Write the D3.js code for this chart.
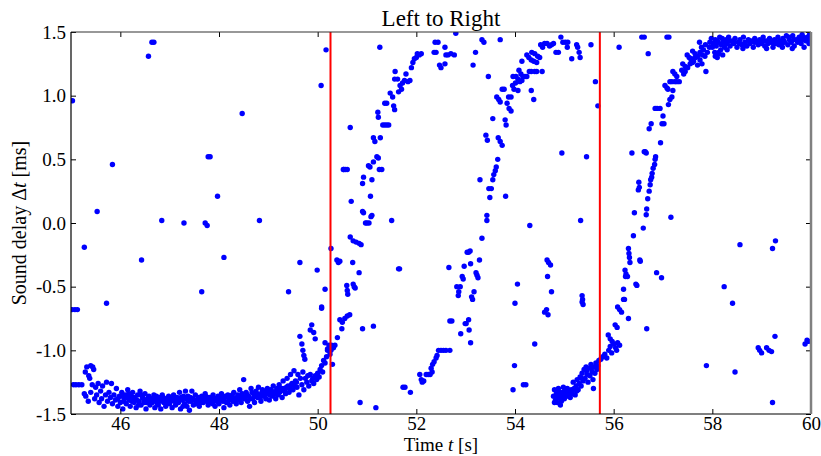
<!DOCTYPE html>
<html>
<head>
<meta charset="utf-8">
<script src="https://cdn.jsdelivr.net/npm/d3@7"></script>
<style>
body { margin: 0; background: #fff; }
svg { display: block; font-family: "Liberation Serif", "DejaVu Serif", serif; }
</style>
</head>
<body>
<svg id="svg0" width="821" height="456"></svg>
<script>

// tick values
var xTicks = [46, 48, 50, 52, 54, 56, 58, 60];
var yTicks = [-1.5, -1.0, -0.5, 0.0, 0.5, 1.0, 1.5];

// red marker lines (time in s)
var markers = [50.26, 55.72];

// [time s, delay ms]
var baseline = [
    [45.05,-1.27],[45.1,-1.27],[45.16,-1.27],[45.22,-1.27],[45.27,-1.34],[45.3,-1.36],[45.29,-1.17],[45.32,-1.13],[45.36,-1.2],[45.4,-1.12],
    [45.44,-1.13],[45.46,-1.15],[45.38,-1.22],[45.35,-1.4],[45.4,-1.33],[45.43,-1.27],[45.48,-1.38],[45.5,-1.29],[45.52,-1.35],[45.55,-1.26],
    [45.57,-1.41],[45.6,-1.32],[45.62,-1.38],[45.64,-1.28],[45.67,-1.44],[45.7,-1.35],[45.72,-1.25],[45.74,-1.4],[45.77,-1.33],[45.8,-1.37],
    [45.82,-1.26],[45.84,-1.42],[45.87,-1.35],[45.9,-1.39],[45.92,-1.3],[45.95,-1.44],[45.98,-1.36],
    [46.0,-1.41],[46.03,-1.33],[46.05,-1.46],[46.08,-1.38],[46.1,-1.35],[46.12,-1.42],[46.15,-1.31],[46.18,-1.39],[46.2,-1.44],[46.22,-1.36],
    [46.25,-1.33],[46.28,-1.41],[46.3,-1.38],[46.32,-1.45],[46.35,-1.35],[46.38,-1.4],[46.4,-1.32],[46.42,-1.43],[46.45,-1.37],[46.48,-1.41],
    [46.5,-1.34],[46.52,-1.46],[46.55,-1.39],[46.58,-1.36],[46.6,-1.43],[46.62,-1.38],[46.65,-1.41],[46.68,-1.35],[46.7,-1.45],[46.72,-1.39],
    [46.75,-1.42],[46.78,-1.37],[46.8,-1.4],[46.82,-1.46],[46.85,-1.35],[46.88,-1.41],[46.9,-1.38],[46.92,-1.44],[46.95,-1.4],[46.98,-1.36],
    [47.0,-1.42],[47.03,-1.38],[47.05,-1.45],[47.08,-1.35],[47.1,-1.4],[47.12,-1.43],[47.15,-1.37],[47.18,-1.41],[47.2,-1.33],[47.22,-1.46],
    [47.25,-1.39],[47.28,-1.36],[47.3,-1.42],[47.32,-1.32],[47.35,-1.44],[47.38,-1.4],[47.4,-1.47],[47.42,-1.37],[47.45,-1.32],[47.48,-1.43],
    [47.5,-1.39],[47.52,-1.35],[47.55,-1.41],[47.58,-1.37],[47.6,-1.44],[47.62,-1.39],[47.65,-1.36],[47.68,-1.41],[47.7,-1.38],[47.72,-1.34],
    [47.75,-1.4],[47.78,-1.43],[47.8,-1.37],[47.82,-1.39],[47.85,-1.41],[47.88,-1.35],[47.9,-1.38],[47.92,-1.44],[47.95,-1.4],[47.98,-1.36],
    [48.0,-1.42],[48.02,-1.38],[48.05,-1.34],[48.08,-1.4],[48.1,-1.45],[48.12,-1.37],[48.15,-1.41],[48.18,-1.35],[48.2,-1.39],[48.22,-1.43],
    [48.25,-1.36],[48.28,-1.4],[48.3,-1.33],[48.32,-1.38],[48.35,-1.42],[48.38,-1.35],[48.4,-1.39],[48.42,-1.31],[48.45,-1.41],[48.48,-1.36],
    [48.5,-1.23],[48.52,-1.38],[48.55,-1.33],[48.58,-1.4],[48.6,-1.36],[48.62,-1.44],[48.65,-1.3],[48.68,-1.38],[48.7,-1.34],[48.72,-1.41],
    [48.75,-1.32],[48.78,-1.37],[48.8,-1.29],[48.82,-1.35],[48.85,-1.4],[48.88,-1.31],[48.9,-1.36],[48.92,-1.33],[48.95,-1.38],[48.98,-1.3],
    [49.0,-1.34],[49.02,-1.39],[49.05,-1.31],[49.08,-1.36],[49.1,-1.28],[49.12,-1.33],[49.15,-1.38],[49.18,-1.3],[49.2,-1.35],[49.22,-1.27],
    [49.25,-1.32],[49.28,-1.37],[49.3,-1.24],[49.32,-1.3],[49.35,-1.34],[49.38,-1.22],[49.4,-1.28],[49.42,-1.33],[49.45,-1.19],[49.48,-1.26],
    [49.5,-1.31],[49.52,-1.16],[49.55,-1.24],[49.58,-1.29],[49.6,-1.19],[49.62,-1.35],[49.65,-1.22],[49.68,-1.27],[49.7,-1.17],[49.72,-1.31],
    [49.75,-1.22],[49.78,-1.25],[49.8,-1.2],[49.82,-1.28],[49.85,-1.19],[49.88,-1.24],[49.9,-1.22],[49.92,-1.26],[49.95,-1.2],[49.98,-1.23],
    [50.0,-1.18],[50.03,-1.21],[50.05,-1.15],[50.08,-1.12],[50.1,-1.17],[50.12,-1.08],[50.15,-1.1],[50.18,-1.05],[50.2,-1.0],[50.23,-0.96],
    [50.25,-1.03],[50.28,-0.96],[50.3,-1.11],[50.32,-0.98],[50.35,-0.96],
    [45.95,-1.38],[46.02,-1.36],[46.07,-1.4],[46.13,-1.37],[46.17,-1.34],[46.23,-1.4],[46.27,-1.37],[46.33,-1.39],[46.37,-1.43],[46.43,-1.35],
    [46.47,-1.38],[46.53,-1.41],[46.57,-1.37],[46.63,-1.4],[46.67,-1.38],[46.73,-1.36],[46.77,-1.43],[46.83,-1.39],[46.87,-1.37],[46.93,-1.41],
    [46.97,-1.39],[47.02,-1.4],[47.07,-1.38],[47.13,-1.41],[47.17,-1.39],[47.23,-1.37],[47.27,-1.44],[47.33,-1.38],[47.37,-1.36],[47.43,-1.4],
    [47.47,-1.38],[47.53,-1.42],[47.57,-1.39],[47.63,-1.41],[47.67,-1.38],[47.73,-1.36],[47.77,-1.39],[47.83,-1.37],[47.87,-1.42],[47.93,-1.38],
    [47.97,-1.4],[48.03,-1.37],[48.07,-1.39],[48.13,-1.36],[48.17,-1.41],[48.23,-1.38],[48.27,-1.35],[48.33,-1.4],[48.37,-1.37],[48.43,-1.38],
    [48.47,-1.34],[48.53,-1.37],[48.57,-1.35],[48.63,-1.38],[48.67,-1.33],[48.73,-1.36],[48.77,-1.34],[48.83,-1.37],[48.87,-1.33],[48.93,-1.35],
    [48.97,-1.33],[49.03,-1.35],[49.07,-1.32],[49.13,-1.34],[49.17,-1.31],[49.23,-1.33],[49.27,-1.3],[49.33,-1.32],[49.37,-1.29],[49.43,-1.3],
    [49.47,-1.27],[49.53,-1.28],[49.57,-1.25],
    [49.64,-0.89],[49.68,-0.95],[49.7,-1.0],[49.72,-1.04],[49.74,-1.07],[49.85,-0.84],[49.88,-0.8],[49.92,-0.86],[49.95,-0.91],[50.08,-0.66],
    [50.15,-0.94],[50.2,-0.99],[50.27,-1.0],[50.4,-0.9],[50.45,-0.76],[50.5,-0.78],[50.55,-0.75],[50.6,-0.73],[50.65,-0.72],[50.49,-0.83]
];

var riseA = [
    [50.27,-0.2],[50.39,-0.29],[50.42,-0.31],[50.45,-0.3],[50.52,0.42],[50.56,0.42],[50.6,0.42],[50.53,0.42],[50.59,-0.49],[50.6,-0.53],
    [50.61,-0.56],[50.66,-0.11],[50.68,0.17],[50.66,0.75],[50.71,-0.31],[50.72,-0.48],[50.74,-0.5],[50.76,-0.51],[50.72,-0.14],[50.78,-0.15],
    [50.84,-0.16],[50.88,-0.17],[50.84,-0.39],[50.91,0.09],[50.91,0.31],[50.93,0.36],[50.93,0.08],[50.97,0.0],[51.0,0.0],[51.04,0.0],
    [51.07,0.21],[51.08,0.05],[51.1,0.06],[51.03,0.45],[51.06,0.44],[51.1,0.34],[51.13,0.48],[51.2,0.52],[51.23,0.51],[51.25,0.42],
    [51.3,0.42],[51.13,0.67],[51.16,0.64],[51.27,0.67],[51.22,0.87],[51.23,0.83],[51.32,0.77],[51.36,0.77],[51.4,0.77],[51.44,0.77],
    [51.36,0.94],[51.4,0.94],[51.47,1.02],[51.52,0.99],[51.54,0.92],[51.56,0.89],[51.57,1.19],[51.56,1.13],[51.62,1.13],[51.64,1.03],
    [51.67,1.08],[51.7,1.05],[51.72,1.1],[51.76,1.12],[51.79,1.17],[51.83,1.11],[51.87,1.12],[51.9,1.22],[51.93,1.26],[51.96,1.29],
    [52.0,1.3],[52.02,1.33],[52.06,1.32],[52.1,1.33],[52.36,1.34],[52.4,1.34],[52.44,1.42],[52.47,1.24],[52.5,1.22],[52.58,1.38],
    [52.6,1.32],[52.64,1.32],[52.7,1.33],[52.77,1.32],[52.8,1.49],[51.26,1.38],[51.5,0.02],[51.64,-0.36],[51.66,-0.36],[51.13,-0.81],
    [50.91,-0.83],[52.38,1.42],[52.58,1.25]
];

var riseB = [
    [51.73,-1.29],[51.77,-1.29],[51.88,-1.33],[52.07,-1.19],[52.1,-1.23],[52.12,-1.25],[52.15,-1.24],[52.2,-1.19],[52.24,-1.19],[52.28,-1.19],
    [52.32,-1.17],[52.3,-1.14],[52.33,-1.11],[52.36,-1.09],[52.4,-1.06],[52.42,-1.04],[52.45,-1.0],[52.5,-1.0],[52.55,-1.0],[52.6,-1.0],
    [52.68,-1.0],[52.66,-0.35],[52.68,-0.77],[52.72,-0.77],[52.82,-0.5],[52.85,-0.57],[52.86,-0.54],[52.89,-0.5],[52.9,-0.87],[52.93,-0.42],
    [52.95,-0.44],[52.97,-0.34],[52.99,-0.79],[53.01,-0.79],[53.03,-0.23],[53.06,-0.23],[53.09,-0.22],[53.06,-0.76],[53.07,-0.84],[53.1,-0.94],
    [53.1,-0.32],[53.12,-0.58],[53.14,-0.6],[53.17,-0.54],[53.21,-0.39],[53.23,-0.41],[53.25,-0.43],[53.28,-0.29],[53.33,-0.12],[53.43,0.06],
    [53.43,0.02],[53.49,0.2],[53.47,0.27],[53.52,0.27],[53.29,0.34],[53.55,0.34],[53.57,0.38],[53.6,0.41],[53.62,0.44],[53.65,0.5],
    [53.81,0.21],[53.41,0.69],[53.44,0.65],[53.55,0.82],[53.66,0.67],[53.7,0.64],[53.74,0.61],[53.8,0.81],[53.82,0.77],[53.84,0.94],
    [53.88,0.9],[53.92,0.88],[53.63,0.99],[53.67,0.97],[53.7,0.95],[53.74,1.05],[53.78,1.05],[53.87,0.99],[53.92,0.99],[53.95,1.08],
    [53.98,1.05],[54.01,1.1],[53.96,1.15],[54.02,1.15],[54.06,1.13],[54.1,1.11],[54.14,1.12],[54.06,1.04],[54.08,1.2],[54.12,1.17],
    [54.16,1.15],[54.2,1.15],[54.24,1.15],[54.33,1.04],[54.38,0.97],[54.14,1.27],[54.24,1.32],[54.28,1.3],[54.33,1.28],[54.38,1.27],
    [54.44,1.26],[54.5,1.3],[54.29,1.19],[54.33,1.19],[54.4,1.19],[54.44,1.19],[54.55,1.19],[54.34,1.34],[54.4,1.33],[54.46,1.31],
    [54.52,1.4],[54.56,1.38],[54.6,1.41],[54.65,1.41],[54.7,1.39],[54.74,1.4],[54.78,1.41],[54.83,1.34],[54.88,1.34],[54.93,1.46],
    [54.97,1.42],[55.02,1.42],[55.07,1.42],[55.06,1.38],[55.15,1.29],[55.25,1.4],[55.27,1.38],[55.3,1.34],[55.32,1.3],[55.54,1.4],
    [55.63,1.11],[55.68,0.92],[53.15,1.24],[53.2,1.34],[53.33,1.44],[53.37,1.42],[53.46,1.15],[53.7,1.44]
];

var clusterC = [
    [54.78,-1.36],[54.8,-1.31],[54.82,-1.39],[54.84,-1.34],[54.86,-1.41],[54.88,-1.3],[54.9,-1.37],[54.92,-1.33],[54.94,-1.4],[54.96,-1.35],
    [54.98,-1.29],[55.0,-1.38],[55.02,-1.33],[55.04,-1.36],[55.06,-1.3],[55.08,-1.35],[55.1,-1.32],[55.12,-1.37],[55.14,-1.31],[55.16,-1.34],
    [55.18,-1.25],[55.2,-1.3],[55.22,-1.35],[55.24,-1.28],[55.26,-1.23],[55.28,-1.31],[55.3,-1.26],[55.32,-1.21],[55.34,-1.28],[55.36,-1.18],
    [55.38,-1.24],[55.4,-1.15],[55.42,-1.22],[55.44,-1.13],[55.46,-1.19],[55.48,-1.25],[55.5,-1.14],[55.52,-1.2],[55.54,-1.11],[55.56,-1.17],
    [55.58,-1.23],[55.59,-1.3],[55.6,-1.13],[55.62,-1.18],[55.64,-1.1],[55.66,-1.15],[55.68,-1.12],[55.7,-1.08],[54.85,-1.37],[54.9,-1.33],
    [54.95,-1.38],[55.05,-1.34],[55.1,-1.36],[55.15,-1.33],[55.25,-1.32],[55.35,-1.22],[55.45,-1.16],[55.55,-1.14],[54.8,-1.41],[54.92,-1.43],
    [55.0,-1.32]
];

var riseC = [
    [55.74,-1.07],[55.78,-1.05],[55.82,-1.03],[55.86,-1.06],[55.9,-1.0],[55.93,-0.97],[55.96,-1.02],[56.0,-0.95],[56.04,-0.98],[56.08,-0.94],
    [56.12,-0.96],[56.06,-1.0],[55.89,-0.88],[55.93,-0.91],[55.97,-0.93],[56.03,-0.8],[56.07,-0.82],[56.08,-0.66],[56.12,-0.68],[56.16,-0.7],
    [56.3,-0.75],[56.2,-0.6],[56.22,-0.6],[56.2,-0.52],[56.24,-0.42],[56.28,-0.42],[56.47,-0.49],[56.45,-0.48],[56.23,-0.37],[56.25,-0.4],
    [56.33,-0.31],[56.53,-0.29],[56.54,-0.3],[56.67,-0.83],[56.87,-0.39],[56.97,-0.43],[56.3,-0.2],[56.31,-0.24],[56.32,-0.27],[56.4,-0.1],
    [56.6,-0.04],[56.42,0.08],[56.66,0.065],[56.67,0.11],[56.69,0.19],[56.72,0.25],[56.5,0.26],[56.52,0.28],[56.51,0.32],[56.74,0.3],
    [56.75,0.34],[56.77,0.36],[56.78,0.39],[56.8,0.43],[56.83,0.46],[56.84,0.5],[56.85,0.52],[56.37,0.55],[56.62,0.56],[56.64,0.56],
    [56.66,0.55],[56.95,0.63],[56.72,0.74],[56.76,0.78],[56.98,0.78],[57.02,0.78],[57.0,0.84],[56.84,0.9],[56.88,0.9],[56.94,0.9],
    [57.11,0.93],[57.14,0.97],[57.18,0.99],[57.04,1.08],[57.08,1.06],[57.1,1.05],[57.2,1.04],[57.14,1.11],[57.18,1.11],[57.24,1.11],
    [57.28,1.11],[57.33,1.11],[57.24,1.17],[57.28,1.15],[57.2,1.19],[57.38,1.2],[57.42,1.17],[57.45,1.19],[57.4,1.25],[57.45,1.23],
    [57.5,1.22],[57.55,1.25],[57.49,1.32],[57.53,1.3],[57.57,1.28],[57.6,1.26],[57.58,1.29],[57.62,1.27],[57.66,1.3],[57.7,1.24],
    [57.75,1.28],[57.79,1.25],[57.87,1.19],[57.6,1.35],[57.65,1.33],[57.7,1.31],[57.75,1.34],[57.8,1.32],[57.74,1.42],[57.78,1.38],
    [57.82,1.36],[57.86,1.4],[57.9,1.34],[57.94,1.38],[57.85,1.31],[58.0,1.38],[58.05,1.34],[58.1,1.3],[58.13,1.34],[58.17,1.36],
    [58.21,1.32],[56.11,1.38],[56.57,1.46],[56.62,1.46],[56.7,1.33],[57.08,1.46],[57.12,1.46],[57.16,0.045]
];

var plateau = [
    [57.95,1.42],[57.98,1.45],[58.02,1.41],[58.06,1.44],[58.08,1.39],[58.12,1.42],[58.15,1.46],[58.18,1.4],[58.22,1.43],[58.25,1.38],
    [58.28,1.44],[58.3,1.41],[58.33,1.46],[58.36,1.39],[58.4,1.43],[58.43,1.41],[58.46,1.45],[58.5,1.38],[58.53,1.42],[58.56,1.44],
    [58.6,1.4],[58.63,1.46],[58.66,1.42],[58.7,1.39],[58.73,1.44],[58.76,1.41],[58.8,1.43],[58.83,1.38],[58.86,1.45],[58.9,1.42],
    [58.93,1.4],[58.96,1.44],[59.0,1.41],[59.03,1.46],[59.06,1.39],[59.1,1.43],[59.13,1.41],[59.16,1.45],[59.2,1.42],[59.23,1.38],
    [59.26,1.44],[59.3,1.41],[59.33,1.46],[59.36,1.43],[59.4,1.4],[59.43,1.45],[59.46,1.42],[59.5,1.47],[59.53,1.4],[59.56,1.44],
    [59.6,1.42],[59.63,1.47],[59.66,1.39],[59.7,1.44],[59.73,1.42],[59.76,1.46],[59.8,1.41],[59.83,1.44],[59.86,1.38],[59.9,1.43],
    [59.93,1.46],[59.96,1.41],[59.99,1.44],
    [58.04,1.4],[58.1,1.43],[58.2,1.45],[58.27,1.41],[58.35,1.43],[58.45,1.42],[58.55,1.41],[58.65,1.4],[58.75,1.43],[58.85,1.42],
    [58.95,1.42],[59.05,1.43],[59.15,1.42],[59.25,1.41],[59.35,1.4],[59.45,1.43],[59.55,1.46],[59.65,1.44],[59.75,1.43],[59.85,1.46],
    [59.95,1.45],[59.62,1.37],[59.42,1.38],[59.82,1.48],[59.97,1.48],[59.1,1.37],[58.62,1.37],[58.3,1.36],[58.12,1.33],[58.06,1.31]
];

var strays = [
    [45.03,0.96],[45.02,-0.68],[45.08,-0.68],[45.13,-0.68],[45.27,-0.19],[45.53,0.09],[45.72,-0.63],[45.84,0.46],[46.43,-0.29],[46.57,1.31],
    [46.64,1.42],[46.68,1.42],[46.84,0.02],[47.29,0.0],[47.65,-0.54],[47.72,0.0],[47.76,-0.02],[47.78,0.52],[47.82,0.52],[47.97,0.21],
    [48.1,-0.27],[48.47,0.86],[48.82,0.02],[49.41,-0.54],[49.64,-0.31],[49.99,-0.37],[50.15,-0.52],[50.08,-0.67],[50.07,1.08],[50.17,1.36],
    [50.86,-1.41],[51.18,-1.45],
    [54.95,0.55],[55.45,0.52],[54.3,-0.02],[55.33,0.02],[54.05,-0.48],[54.0,-0.63],[54.65,-0.29],[54.68,-0.31],[54.72,-0.33],[54.66,-0.42],
    [54.74,-0.54],[54.6,-0.7],[54.64,-0.68],[54.67,-0.72],[55.36,-0.57],[55.37,-0.6],[55.38,-0.64],[55.36,-0.62],[54.4,-0.95],[53.99,-1.12],
    [53.96,-1.31],[54.17,-1.27],[54.22,-1.27],
    [57.88,-1.12],[58.24,-0.5],[58.41,-0.63],[58.46,-1.17],[58.56,-0.17],[58.93,-0.98],[58.96,-1.0],[59.0,-1.02],[59.1,-0.98],[59.15,-1.0],
    [59.2,-1.01],[59.22,-0.2],[59.28,-0.14],[59.27,-0.89],[59.22,-1.41],[59.88,-0.95],[59.92,-0.92],[59.95,-0.93]
];

var allPoints = [].concat(baseline, riseA, riseB, clusterC, riseC, plateau, strays);

var plotLeft = 71, plotRight = 811, plotTop = 32, plotBottom = 414;

var x = d3.scaleLinear().domain([45, 60]).range([plotLeft, plotRight]);
var y = d3.scaleLinear().domain([-1.5, 1.5]).range([plotBottom, plotTop]);

var svg0 = d3.select('#svg0');

svg0.append('defs').append('clipPath')
    .attr('id', 'plotclip')
    .append('rect')
    .attr('x', plotLeft)
    .attr('y', plotTop)
    .attr('width', plotRight - plotLeft)
    .attr('height', plotBottom - plotTop);

var dots = svg0.append('g').attr('clip-path', 'url(#plotclip)');

dots.selectAll('circle')
    .data(allPoints)
    .enter()
    .append('circle')
    .attr('cx', function (d) { return x(d[0]); })
    .attr('cy', function (d) { return y(d[1]); })
    .attr('r', 2.7)
    .attr('fill', '#0000ff');

dots.selectAll('line.marker')
    .data(markers)
    .enter()
    .append('line')
    .attr('class', 'marker')
    .attr('x1', function (d) { return x(d); })
    .attr('x2', function (d) { return x(d); })
    .attr('y1', plotTop)
    .attr('y2', plotBottom)
    .attr('stroke', '#ff0000')
    .attr('stroke-width', 2);

// axes, ticks pointing inward
var fmt = function (d) { return d.toFixed(1); };

var xAxis = svg0.append('g')
    .attr('transform', 'translate(0,' + plotBottom + ')')
    .call(d3.axisBottom(x).tickValues(xTicks).tickSizeInner(-5).tickSizeOuter(0).tickPadding(2));

var xTop = svg0.append('g')
    .attr('transform', 'translate(0,' + plotTop + ')')
    .call(d3.axisTop(x).tickValues(xTicks).tickSizeInner(-5).tickSizeOuter(0).tickFormat(''));

var yAxis = svg0.append('g')
    .attr('transform', 'translate(' + plotLeft + ',0)')
    .call(d3.axisLeft(y).tickValues(yTicks).tickFormat(fmt).tickSizeInner(-5).tickSizeOuter(0).tickPadding(5));

var yRight = svg0.append('g')
    .attr('transform', 'translate(' + plotRight + ',0)')
    .call(d3.axisRight(y).tickValues(yTicks).tickSizeInner(-5).tickSizeOuter(0).tickFormat(''));

svg0.selectAll('.domain').remove();
svg0.selectAll('.tick line').attr('stroke', '#000').attr('stroke-width', 1);
svg0.selectAll('.tick text')
    .attr('fill', '#000')
    .style('font-family', '"Liberation Serif", serif')
    .style('font-size', '19px');

// frame
svg0.append('line').attr('x1', plotLeft).attr('x2', plotRight).attr('y1', plotBottom).attr('y2', plotBottom).attr('stroke', '#000').attr('stroke-width', 1.2);
svg0.append('line').attr('x1', plotLeft).attr('x2', plotRight).attr('y1', plotTop).attr('y2', plotTop).attr('stroke', '#333').attr('stroke-width', 1.2);
svg0.append('line').attr('x1', plotLeft).attr('x2', plotLeft).attr('y1', plotTop).attr('y2', plotBottom).attr('stroke', '#000').attr('stroke-width', 1.2);
svg0.append('line').attr('x1', plotRight).attr('x2', plotRight).attr('y1', plotTop).attr('y2', plotBottom).attr('stroke', '#808080').attr('stroke-width', 2.5);

// title and labels
svg0.append('text')
    .attr('x', (plotLeft + plotRight) / 2)
    .attr('y', 26)
    .attr('text-anchor', 'middle')
    .style('font-size', '23px')
    .text('Left to Right');

var xLabel = svg0.append('text')
    .attr('x', (plotLeft + plotRight) / 2)
    .attr('y', 451)
    .attr('text-anchor', 'middle')
    .style('font-size', '19px');
xLabel.append('tspan').text('Time ');
xLabel.append('tspan').style('font-style', 'italic').text('t');
xLabel.append('tspan').text(' [s]');

var yLabel = svg0.append('text')
    .attr('transform', 'translate(26,' + ((plotTop + plotBottom) / 2) + ') rotate(-90)')
    .attr('text-anchor', 'middle')
    .style('font-size', '20px');
yLabel.append('tspan').text('Sound delay \u0394');
yLabel.append('tspan').style('font-style', 'italic').text('t');
yLabel.append('tspan').text(' [ms]');

</script>
</body>
</html>
